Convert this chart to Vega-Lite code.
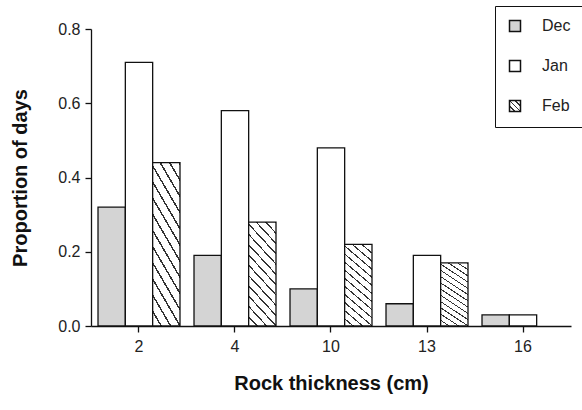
{
  "$schema": "https://vega.github.io/schema/vega-lite/v6.json",
  "width": 480,
  "height": 297,
  "autosize": "none",
  "padding": {"left": 91, "top": 29, "right": 11, "bottom": 84},
  "background": "white",
  "config": {
    "view": {"stroke": null},
    "font": "Liberation Sans",
    "axis": {"labelFont": "Liberation Sans", "titleFont": "Liberation Sans", "labelColor": "#222", "titleColor": "#111", "domainColor": "#111", "tickColor": "#111", "domainWidth": 1.3, "tickWidth": 1.3, "grid": false}
  },
  "data": {
    "values": [
      {"thickness": "2", "month": "Dec", "proportion": 0.32},
      {"thickness": "2", "month": "Jan", "proportion": 0.71},
      {"thickness": "2", "month": "Feb", "proportion": 0.44},
      {"thickness": "4", "month": "Dec", "proportion": 0.19},
      {"thickness": "4", "month": "Jan", "proportion": 0.58},
      {"thickness": "4", "month": "Feb", "proportion": 0.28},
      {"thickness": "10", "month": "Dec", "proportion": 0.10},
      {"thickness": "10", "month": "Jan", "proportion": 0.48},
      {"thickness": "10", "month": "Feb", "proportion": 0.22},
      {"thickness": "13", "month": "Dec", "proportion": 0.06},
      {"thickness": "13", "month": "Jan", "proportion": 0.19},
      {"thickness": "13", "month": "Feb", "proportion": 0.17},
      {"thickness": "16", "month": "Dec", "proportion": 0.03},
      {"thickness": "16", "month": "Jan", "proportion": 0.03}
    ]
  },
  "mark": {"type": "bar", "stroke": "#111", "strokeWidth": 1.3},
  "encoding": {
    "x": {
      "field": "thickness", "type": "ordinal", "sort": ["2", "4", "10", "13", "16"],
      "scale": {"paddingInner": 0.146, "paddingOuter": 0.073},
      "axis": {"title": "Rock thickness (cm)", "labelAngle": 0, "labelFontSize": 16, "titleFontSize": 20, "titleFontWeight": "bold", "tickSize": 6, "labelPadding": 6, "titlePadding": 19}
    },
    "xOffset": {"field": "month", "type": "nominal", "sort": ["Dec", "Jan", "Feb"], "scale": {"paddingInner": 0, "paddingOuter": 0}},
    "y": {
      "field": "proportion", "type": "quantitative",
      "scale": {"domain": [0, 0.8], "nice": false},
      "axis": {"title": "Proportion of days", "values": [0, 0.2, 0.4, 0.6, 0.8], "format": ".1f", "labelFontSize": 16, "titleFontSize": 20, "titleFontWeight": "bold", "tickSize": 6, "labelPadding": 5, "titlePadding": 27}
    },
    "fill": {
      "condition": {
        "test": "datum.month === 'Feb'",
        "value": {
          "gradient": "linear", "x1": 1, "y1": 0, "x2": 0.66, "y2": 1.189,
          "stops": [
            {"offset": 0, "color": "#333"}, {"offset": 0.0138, "color": "#333"}, {"offset": 0.0138, "color": "#fff"},
            {"offset": 0.0769, "color": "#fff"}, {"offset": 0.0769, "color": "#333"}, {"offset": 0.0908, "color": "#333"}, {"offset": 0.0908, "color": "#fff"},
            {"offset": 0.1538, "color": "#fff"}, {"offset": 0.1538, "color": "#333"}, {"offset": 0.1677, "color": "#333"}, {"offset": 0.1677, "color": "#fff"},
            {"offset": 0.2308, "color": "#fff"}, {"offset": 0.2308, "color": "#333"}, {"offset": 0.2446, "color": "#333"}, {"offset": 0.2446, "color": "#fff"},
            {"offset": 0.3077, "color": "#fff"}, {"offset": 0.3077, "color": "#333"}, {"offset": 0.3215, "color": "#333"}, {"offset": 0.3215, "color": "#fff"},
            {"offset": 0.3846, "color": "#fff"}, {"offset": 0.3846, "color": "#333"}, {"offset": 0.3985, "color": "#333"}, {"offset": 0.3985, "color": "#fff"},
            {"offset": 0.4615, "color": "#fff"}, {"offset": 0.4615, "color": "#333"}, {"offset": 0.4754, "color": "#333"}, {"offset": 0.4754, "color": "#fff"},
            {"offset": 0.5385, "color": "#fff"}, {"offset": 0.5385, "color": "#333"}, {"offset": 0.5523, "color": "#333"}, {"offset": 0.5523, "color": "#fff"},
            {"offset": 0.6154, "color": "#fff"}, {"offset": 0.6154, "color": "#333"}, {"offset": 0.6292, "color": "#333"}, {"offset": 0.6292, "color": "#fff"},
            {"offset": 0.6923, "color": "#fff"}, {"offset": 0.6923, "color": "#333"}, {"offset": 0.7062, "color": "#333"}, {"offset": 0.7062, "color": "#fff"},
            {"offset": 0.7692, "color": "#fff"}, {"offset": 0.7692, "color": "#333"}, {"offset": 0.7831, "color": "#333"}, {"offset": 0.7831, "color": "#fff"},
            {"offset": 0.8462, "color": "#fff"}, {"offset": 0.8462, "color": "#333"}, {"offset": 0.86, "color": "#333"}, {"offset": 0.86, "color": "#fff"},
            {"offset": 0.9231, "color": "#fff"}, {"offset": 0.9231, "color": "#333"}, {"offset": 0.9369, "color": "#333"}, {"offset": 0.9369, "color": "#fff"},
            {"offset": 1, "color": "#fff"}
          ]
        }
      },
      "field": "month", "type": "nominal", "sort": ["Dec", "Jan", "Feb"],
      "scale": {"domain": ["Dec", "Jan", "Feb"], "range": ["#d4d4d4", "#ffffff", {"expr": "{gradient: 'linear', x1: 1, y1: 0, x2: 0, y2: 1, stops: [{offset: 0, color: '#fff'}, {offset: 0.22, color: '#fff'}, {offset: 0.22, color: '#333'}, {offset: 0.3, color: '#333'}, {offset: 0.3, color: '#fff'}, {offset: 0.46, color: '#fff'}, {offset: 0.46, color: '#333'}, {offset: 0.54, color: '#333'}, {offset: 0.54, color: '#fff'}, {offset: 0.7, color: '#fff'}, {offset: 0.7, color: '#333'}, {offset: 0.78, color: '#333'}, {offset: 0.78, color: '#fff'}, {offset: 1, color: '#fff'}]}"}]},
      "legend": {
        "title": null, "orient": "none", "legendX": 404, "legendY": -23,
        "symbolType": "square", "symbolSize": 121,
        "labelFontSize": 16, "labelColor": "#222", "labelOffset": 19, "rowPadding": 22,
        "padding": 12, "strokeColor": "#111", "fillColor": "white",
        "encode": {
          "symbols": {
            "update": {
              "stroke": {"value": "#222"},
              "strokeWidth": {"value": 1},
              "opacity": {"value": 1}
            }
          }
        }
      }
    }
  }
}
